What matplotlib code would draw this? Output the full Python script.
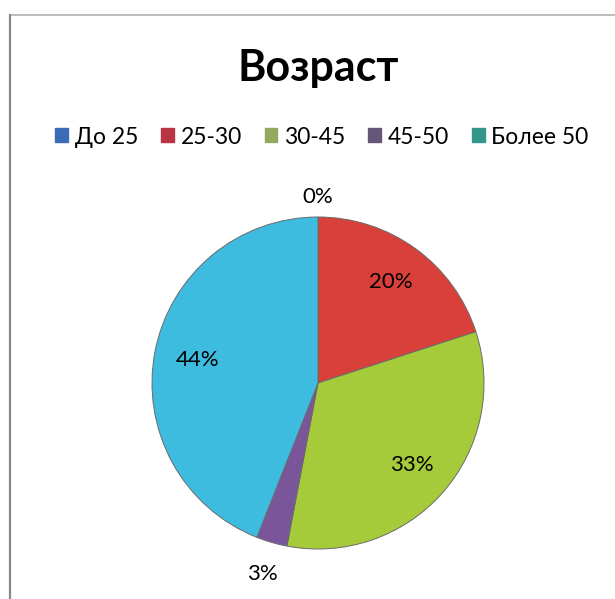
import matplotlib
matplotlib.use("Agg")
import matplotlib.pyplot as plt
from matplotlib.patches import Patch
from matplotlib.lines import Line2D
import numpy as np

categories = ["До 25", "25-30", "30-45", "45-50", "Более 50"]
values = [0, 20, 33, 3, 44]
labels = ["0%", "20%", "33%", "3%", "44%"]
slice_colors = ["#3A6FB8", "#D9403A", "#A6CB3A", "#7B559A", "#3EBCE0"]
legend_colors = ["#3A6CB5", "#B83545", "#95A860", "#66577A", "#35978C"]

plt.rcParams['font.family'] = ['Lato', 'DejaVu Sans']

W, H = 615, 599
fig = plt.figure(figsize=(W / 100, H / 100), dpi=100)
fig.patch.set_facecolor("white")

# frame lines (top and left)
fig.add_artist(Line2D([9.5 / W, 1], [1 - 14.5 / H, 1 - 14.5 / H], transform=fig.transFigure,
                      color="#b0b0b0", linewidth=1.2))
fig.add_artist(Line2D([9.5 / W, 9.5 / W], [0, 1 - 14.5 / H], transform=fig.transFigure,
                      color="#888888", linewidth=1.6))

cx, cy, R = 318, H - 383, 166
ax = fig.add_axes([(cx - R) / W, (cy - R) / H, 2 * R / W, 2 * R / H])
wedges, _ = ax.pie(values, colors=slice_colors, startangle=90, counterclock=False,
                   radius=1, wedgeprops=dict(edgecolor="#6a6a6a", linewidth=0.7))
ax.set_xlim(-1, 1)
ax.set_ylim(-1, 1)
ax.set_aspect("equal")
ax.axis("off")

dists = [1.12, 0.75, 0.75, 1.2, 0.74]
for w, lab, d in zip(wedges, labels, dists):
    ang = np.deg2rad((w.theta1 + w.theta2) / 2)
    ax.text(d * np.cos(ang), d * np.sin(ang), lab, ha="center", va="center",
            fontsize=16, color="black", clip_on=False)

fig.text(318 / W, 1 - 68 / H, "Возраст", ha="center", va="center",
         fontsize=31, fontweight="bold")

handles = [Patch(facecolor=c, edgecolor=c) for c in legend_colors]
fig.legend(handles, categories, loc="center", bbox_to_anchor=(322 / W, 1 - 137 / H),
           ncol=5, frameon=False, fontsize=16.5, handlelength=0.55, handleheight=0.55,
           handletextpad=0.3, columnspacing=1.0)

fig.savefig("out.png", dpi=100, facecolor="white")
